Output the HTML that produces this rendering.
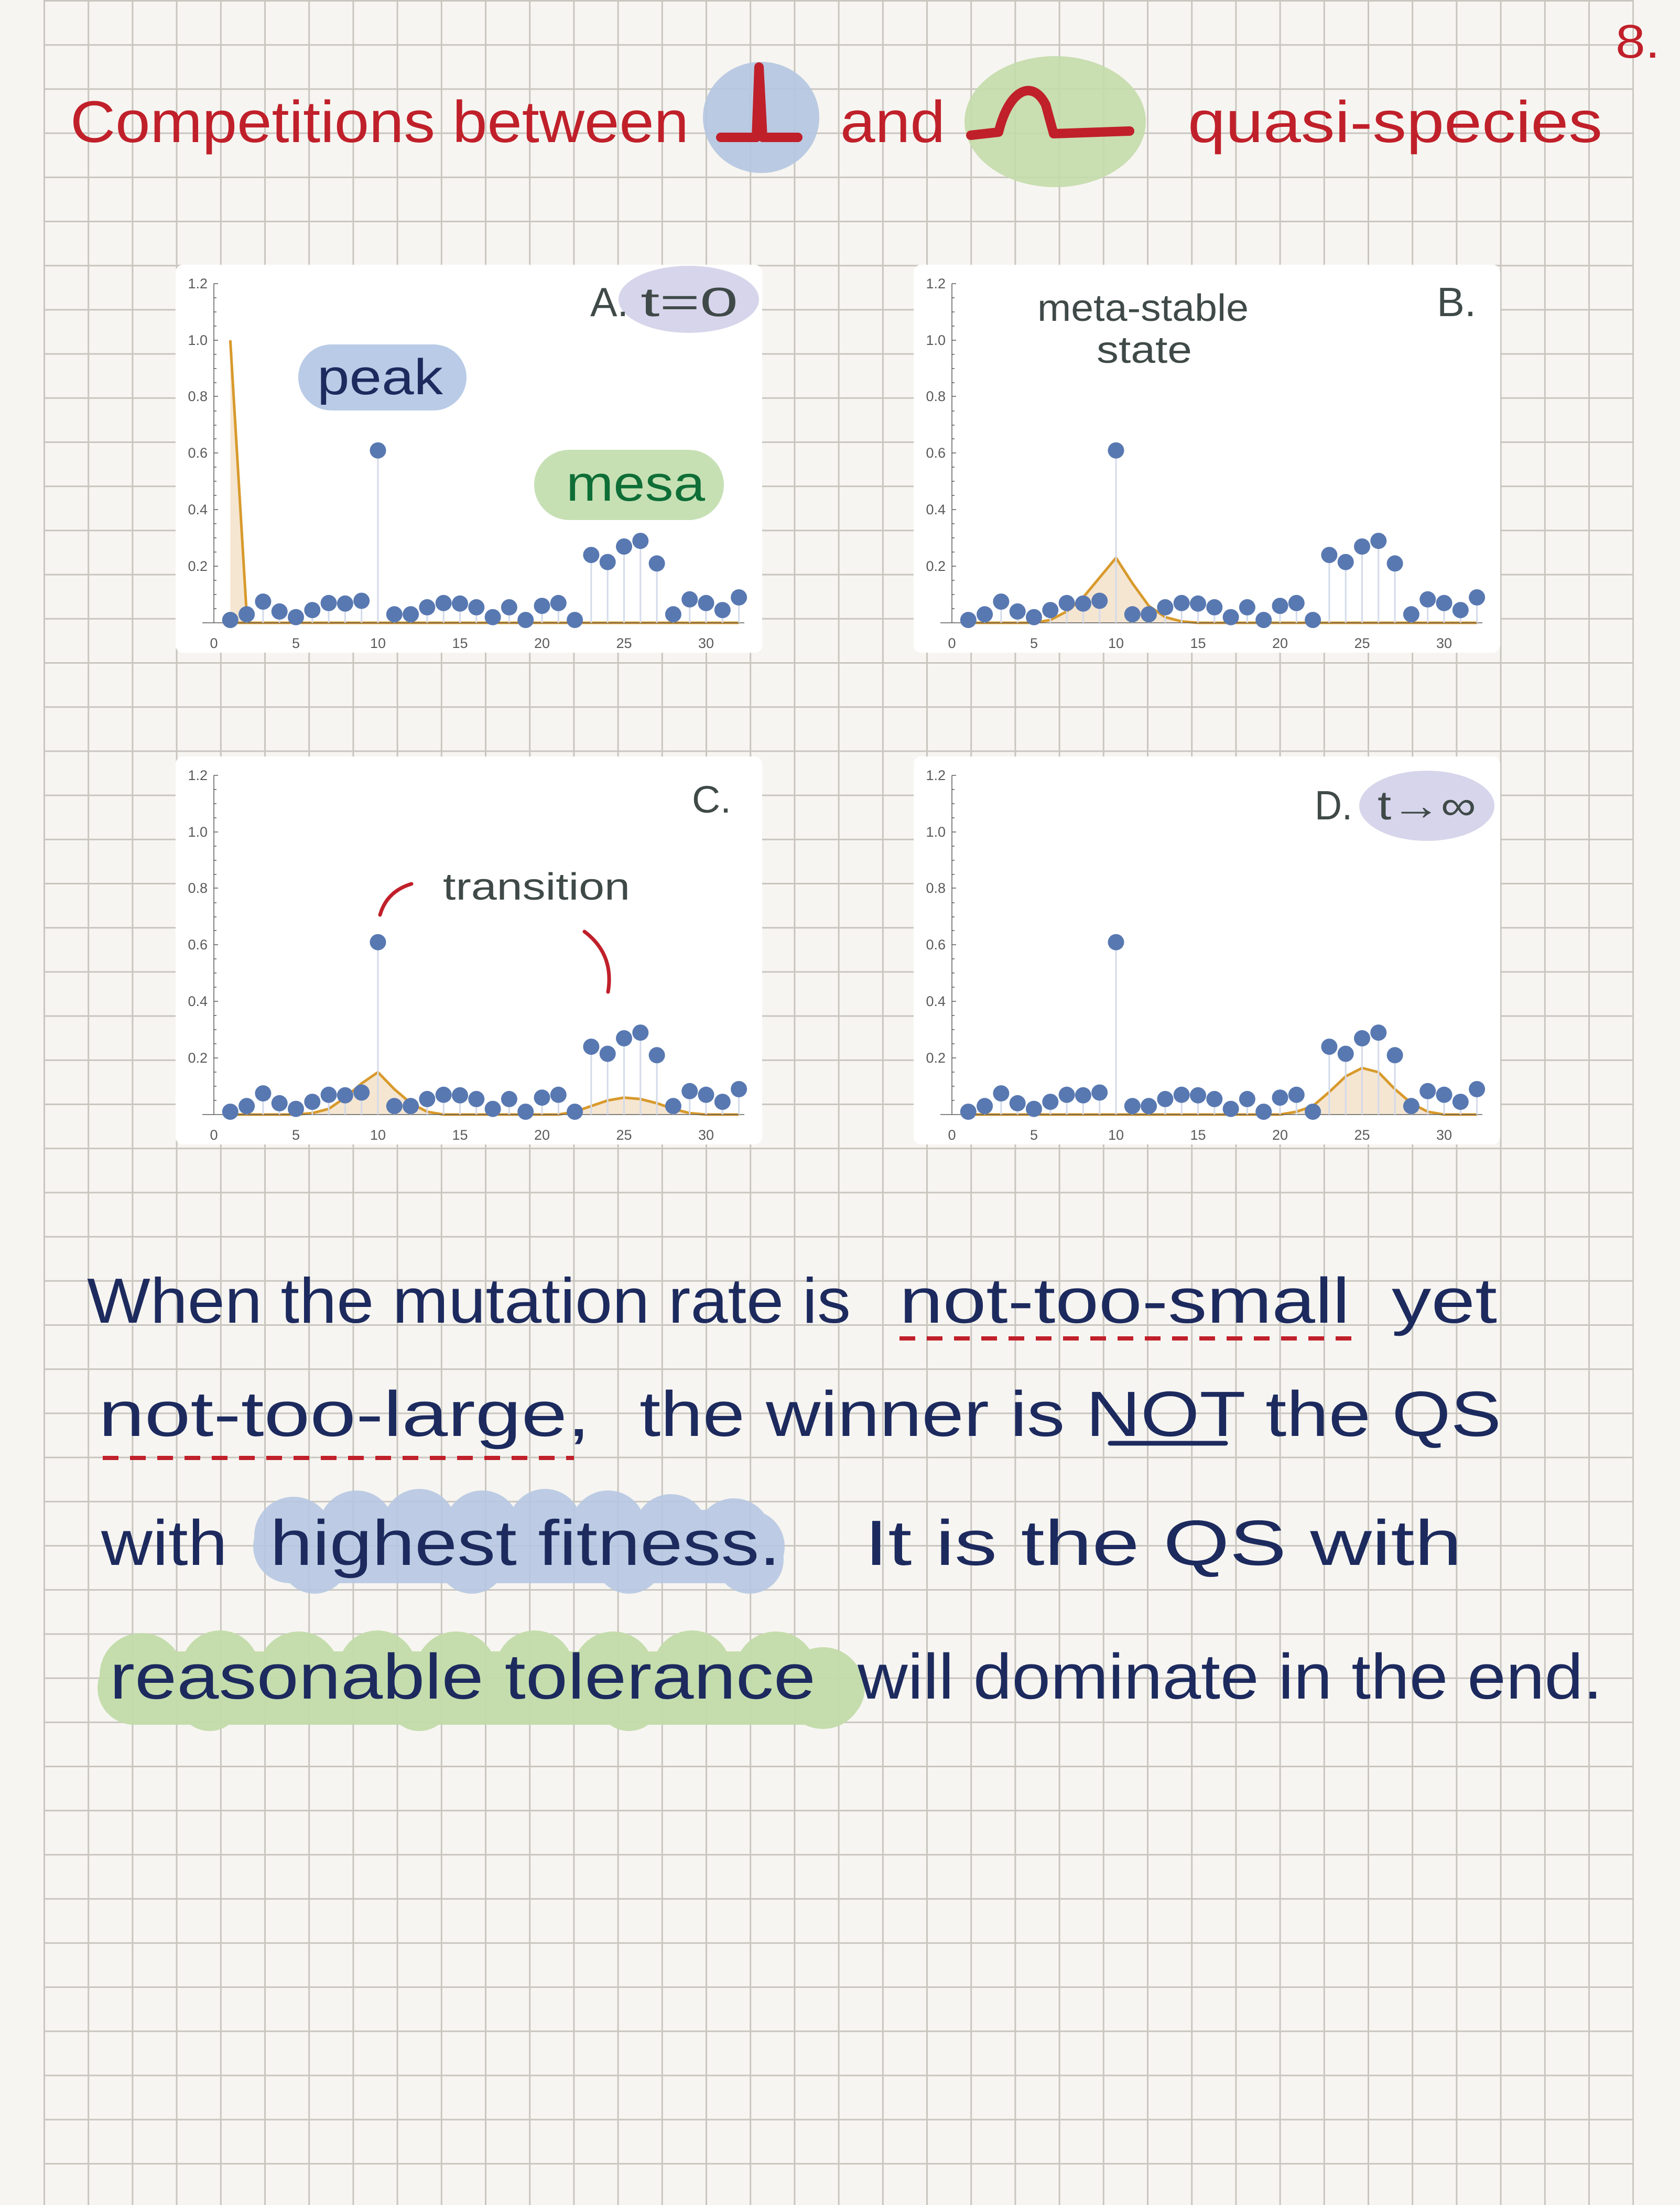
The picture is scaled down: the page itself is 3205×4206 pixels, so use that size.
<!DOCTYPE html>
<html><head><meta charset="utf-8"><style>
html,body{margin:0;padding:0;background:#f7f5f1;}
svg{display:block;}
.h{font-family:"Liberation Sans",sans-serif;}
.tl{font-family:"Liberation Sans",sans-serif;font-size:27px;fill:#5a5a5a;}
</style></head><body>
<svg width="3205" height="4206" viewBox="0 0 3205 4206" xmlns="http://www.w3.org/2000/svg">
<defs>
<pattern id="grid" x="83" y="0" width="84.2" height="84.2" patternUnits="userSpaceOnUse">
<path d="M1.5,0 V84.2 M0,1.5 H84.2" stroke="#c9c5bf" stroke-width="3" fill="none"/>
</pattern>
<g id="plot">
<g stroke="#5a5a5a" stroke-width="1.5" fill="none">
<path d="M408,541 V1188 M386,1188 H1420"/>
<path d="M408,541 h8 M408,649 h8 M408,756 h8 M408,864 h8 M408,972 h8 M408,1080 h8"/>
<path d="M408,568 h5 M408,595 h5 M408,622 h5 M408,676 h5 M408,703 h5 M408,730 h5 M408,784 h5 M408,811 h5 M408,837 h5 M408,891 h5 M408,918 h5 M408,945 h5 M408,999 h5 M408,1026 h5 M408,1053 h5 M408,1107 h5 M408,1134 h5 M408,1161 h5"/>
<path d="M564.5,1188 v-8 M721,1188 v-8 M877.5,1188 v-8 M1034,1188 v-8 M1190.5,1188 v-8 M1347,1188 v-8"/>
</g>
<path stroke="#d3daea" stroke-width="3" fill="none" d="M439.3,1182.6V1188 M470.6,1171.8V1188 M501.9,1147.6V1188 M533.2,1166.4V1188 M564.5,1177.2V1188 M595.8,1163.7V1188 M627.1,1150.3V1188 M658.4,1151.3V1188 M689.7,1146V1188 M721,859.2V1188 M752.3,1171.8V1188 M783.6,1171.8V1188 M814.9,1158.4V1188 M846.2,1150.3V1188 M877.5,1151.3V1188 M908.8,1158.4V1188 M940.1,1177.2V1188 M971.4,1158.4V1188 M1002.7,1182.6V1188 M1034,1155.7V1188 M1065.3,1150.3V1188 M1096.6,1182.6V1188 M1127.9,1058.6V1188 M1159.2,1072.1V1188 M1190.5,1042.5V1188 M1221.8,1031.7V1188 M1253.1,1074.8V1188 M1284.4,1171.8V1188 M1315.7,1143.3V1188 M1347,1150.3V1188 M1378.3,1163.7V1188 M1409.6,1139.5V1188"/>
<g fill="#5878b1">
<circle cx="439.3" cy="1182.6" r="15.5"/><circle cx="470.6" cy="1171.8" r="15.5"/><circle cx="501.9" cy="1147.6" r="15.5"/><circle cx="533.2" cy="1166.4" r="15.5"/><circle cx="564.5" cy="1177.2" r="15.5"/><circle cx="595.8" cy="1163.7" r="15.5"/><circle cx="627.1" cy="1150.3" r="15.5"/><circle cx="658.4" cy="1151.3" r="15.5"/><circle cx="689.7" cy="1146" r="15.5"/><circle cx="721" cy="859.2" r="15.5"/><circle cx="752.3" cy="1171.8" r="15.5"/><circle cx="783.6" cy="1171.8" r="15.5"/><circle cx="814.9" cy="1158.4" r="15.5"/><circle cx="846.2" cy="1150.3" r="15.5"/><circle cx="877.5" cy="1151.3" r="15.5"/><circle cx="908.8" cy="1158.4" r="15.5"/><circle cx="940.1" cy="1177.2" r="15.5"/><circle cx="971.4" cy="1158.4" r="15.5"/><circle cx="1002.7" cy="1182.6" r="15.5"/><circle cx="1034" cy="1155.7" r="15.5"/><circle cx="1065.3" cy="1150.3" r="15.5"/><circle cx="1096.6" cy="1182.6" r="15.5"/><circle cx="1127.9" cy="1058.6" r="15.5"/><circle cx="1159.2" cy="1072.1" r="15.5"/><circle cx="1190.5" cy="1042.5" r="15.5"/><circle cx="1221.8" cy="1031.7" r="15.5"/><circle cx="1253.1" cy="1074.8" r="15.5"/><circle cx="1284.4" cy="1171.8" r="15.5"/><circle cx="1315.7" cy="1143.3" r="15.5"/><circle cx="1347" cy="1150.3" r="15.5"/><circle cx="1378.3" cy="1163.7" r="15.5"/><circle cx="1409.6" cy="1139.5" r="15.5"/>
</g>
</g>
</defs>
<rect x="0" y="0" width="3205" height="4206" fill="#f7f5f1"/>
<rect x="83" y="0" width="3034" height="4206" fill="url(#grid)"/>

<!-- Title -->
<ellipse cx="1452" cy="224" rx="111" ry="106" fill="#b3c5e0" opacity="0.9"/>
<ellipse cx="2013" cy="232" rx="173" ry="125" fill="#c3dcaa" opacity="0.9"/>
<g class="h" fill="#c0202a" font-size="112">
<text x="134" y="271" textLength="1180" lengthAdjust="spacingAndGlyphs">Competitions between</text>
<text x="1603" y="271" textLength="200" lengthAdjust="spacingAndGlyphs">and</text>
<text x="2266" y="271" textLength="791" lengthAdjust="spacingAndGlyphs">quasi-species</text>
<text x="3082" y="110" font-size="90" textLength="85" lengthAdjust="spacingAndGlyphs">8.</text>
</g>
<path d="M1375,262 L1443,262 L1448,128 L1455,262 L1522,262" stroke="#c0202a" stroke-width="18" fill="none" stroke-linejoin="round" stroke-linecap="round"/>
<path d="M1852,258 L1905,252 C1925,170 1970,150 1995,200 L2010,255 L2155,250" stroke="#c0202a" stroke-width="18" fill="none" stroke-linejoin="round" stroke-linecap="round"/>

<!-- Panels -->
<g>
<rect x="335" y="505" width="1119" height="740" rx="14" fill="#ffffff"/>
<path d="M439.3,1188 L439.3,649 L470.6,1172 L470.6,1188 Z" fill="#f5e6d2"/>
<path d="M439.3,649 L470.6,1172 L470.6,1188 M439.3,1188 H1409.6" stroke="#d89a2c" stroke-width="5" fill="none"/>
<use href="#plot"/>
</g>
<g transform="translate(1408,0)">
<rect x="335" y="505" width="1119" height="740" rx="14" fill="#ffffff"/>
<path d="M439.3,1188 L564.5,1188 L595.8,1182.6 L627.1,1166.4 L658.4,1139.5 L689.7,1101.8 L721,1064 L752.3,1112.5 L783.6,1155.7 L814.9,1177.2 L846.2,1185.3 L877.5,1188 Z" fill="#f5e6d2"/>
<path d="M439.3,1188 L564.5,1188 L595.8,1182.6 L627.1,1166.4 L658.4,1139.5 L689.7,1101.8 L721,1064 L752.3,1112.5 L783.6,1155.7 L814.9,1177.2 L846.2,1185.3 L877.5,1188 L1409.6,1188" stroke="#d89a2c" stroke-width="5" fill="none"/>
<use href="#plot"/>
</g>
<g transform="translate(0,938)">
<rect x="335" y="505" width="1119" height="740" rx="14" fill="#ffffff"/>
<path d="M564.5,1188 L595.8,1185.3 L627.1,1177.2 L658.4,1155.7 L689.7,1128.7 L721,1107.2 L752.3,1139.5 L783.6,1166.4 L814.9,1182.6 L846.2,1188 Z M1065.3,1188 L1096.6,1182.6 L1127.9,1171.8 L1159.2,1161.1 L1190.5,1155.7 L1221.8,1158.4 L1253.1,1166.4 L1284.4,1177.2 L1315.7,1185.3 L1347,1188 Z" fill="#f5e6d2"/>
<path d="M439.3,1188 L564.5,1188 L595.8,1185.3 L627.1,1177.2 L658.4,1155.7 L689.7,1128.7 L721,1107.2 L752.3,1139.5 L783.6,1166.4 L814.9,1182.6 L846.2,1188 L1065.3,1188 L1096.6,1182.6 L1127.9,1171.8 L1159.2,1161.1 L1190.5,1155.7 L1221.8,1158.4 L1253.1,1166.4 L1284.4,1177.2 L1315.7,1185.3 L1347,1188 L1409.6,1188" stroke="#d89a2c" stroke-width="5" fill="none"/>
<use href="#plot"/>
</g>
<g transform="translate(1408,938)">
<rect x="335" y="505" width="1119" height="740" rx="14" fill="#ffffff"/>
<path d="M1034,1188 L1065.3,1182.6 L1096.6,1171.8 L1127.9,1144.9 L1159.2,1115.2 L1190.5,1099.1 L1221.8,1107.2 L1253.1,1139.5 L1284.4,1166.4 L1315.7,1182.6 L1347,1188 Z" fill="#f5e6d2"/>
<path d="M439.3,1188 L1034,1188 L1065.3,1182.6 L1096.6,1171.8 L1127.9,1144.9 L1159.2,1115.2 L1190.5,1099.1 L1221.8,1107.2 L1253.1,1139.5 L1284.4,1166.4 L1315.7,1182.6 L1347,1188 L1409.6,1188" stroke="#d89a2c" stroke-width="5" fill="none"/>
<use href="#plot"/>
</g>

<!-- tick labels -->
<g class="tl">
<g text-anchor="end">
<text x="396" y="550">1.2</text><text x="396" y="658">1.0</text><text x="396" y="765">0.8</text><text x="396" y="873">0.6</text><text x="396" y="981">0.4</text><text x="396" y="1089">0.2</text>
<text x="1804" y="550">1.2</text><text x="1804" y="658">1.0</text><text x="1804" y="765">0.8</text><text x="1804" y="873">0.6</text><text x="1804" y="981">0.4</text><text x="1804" y="1089">0.2</text>
<text x="396" y="1488">1.2</text><text x="396" y="1596">1.0</text><text x="396" y="1703">0.8</text><text x="396" y="1811">0.6</text><text x="396" y="1919">0.4</text><text x="396" y="2027">0.2</text>
<text x="1804" y="1488">1.2</text><text x="1804" y="1596">1.0</text><text x="1804" y="1703">0.8</text><text x="1804" y="1811">0.6</text><text x="1804" y="1919">0.4</text><text x="1804" y="2027">0.2</text>
</g>
<g text-anchor="middle">
<text x="408" y="1236">0</text><text x="564.5" y="1236">5</text><text x="721" y="1236">10</text><text x="877.5" y="1236">15</text><text x="1034" y="1236">20</text><text x="1190.5" y="1236">25</text><text x="1347" y="1236">30</text>
<text x="1816" y="1236">0</text><text x="1972.5" y="1236">5</text><text x="2129" y="1236">10</text><text x="2285.5" y="1236">15</text><text x="2442" y="1236">20</text><text x="2598.5" y="1236">25</text><text x="2755" y="1236">30</text>
<text x="408" y="2174">0</text><text x="564.5" y="2174">5</text><text x="721" y="2174">10</text><text x="877.5" y="2174">15</text><text x="1034" y="2174">20</text><text x="1190.5" y="2174">25</text><text x="1347" y="2174">30</text>
<text x="1816" y="2174">0</text><text x="1972.5" y="2174">5</text><text x="2129" y="2174">10</text><text x="2285.5" y="2174">15</text><text x="2442" y="2174">20</text><text x="2598.5" y="2174">25</text><text x="2755" y="2174">30</text>
</g>
</g>

<!-- panel annotations -->
<ellipse cx="1314" cy="571" rx="134" ry="64" fill="#d7d5eb"/>
<rect x="569" y="657" width="321" height="126" rx="63" fill="#b9cbe6"/>
<rect x="1019" y="858" width="362" height="134" rx="67" fill="#c6e0b4"/>
<ellipse cx="2722" cy="1537" rx="129" ry="67" fill="#d7d5eb"/>
<g class="h">
<text x="1126" y="603" font-size="78" fill="#3f4a48" textLength="73" lengthAdjust="spacingAndGlyphs">A.</text>
<text x="1222" y="603" font-size="78" fill="#3f4a48" textLength="186" lengthAdjust="spacingAndGlyphs">t=0</text>
<text x="605" y="752" font-size="96" fill="#1c2a5e" textLength="240" lengthAdjust="spacingAndGlyphs">peak</text>
<text x="1080" y="955" font-size="96" fill="#0e6e36" textLength="265" lengthAdjust="spacingAndGlyphs">mesa</text>
<text x="1979" y="612" font-size="72" fill="#3f4a48" textLength="403" lengthAdjust="spacingAndGlyphs">meta-stable</text>
<text x="2092" y="692" font-size="72" fill="#3f4a48" textLength="182" lengthAdjust="spacingAndGlyphs">state</text>
<text x="2741" y="603" font-size="78" fill="#3f4a48" textLength="75" lengthAdjust="spacingAndGlyphs">B.</text>
<text x="1320" y="1550" font-size="72" fill="#3f4a48" textLength="75" lengthAdjust="spacingAndGlyphs">C.</text>
<text x="845" y="1716" font-size="72" fill="#3f4a48" textLength="357" lengthAdjust="spacingAndGlyphs">transition</text>
<text x="2508" y="1563" font-size="78" fill="#3f4a48" textLength="72" lengthAdjust="spacingAndGlyphs">D.</text>
<text x="2628" y="1563" font-size="78" fill="#3f4a48" textLength="188" lengthAdjust="spacingAndGlyphs">t→∞</text>
</g>
<path d="M725,1745 Q738,1700 785,1686 M1115,1777 Q1172,1820 1160,1892" stroke="#c0202a" stroke-width="7" fill="none" stroke-linecap="round"/>

<!-- body highlights -->
<g fill="#b7c8e3" opacity="0.9">
<rect x="483" y="2880" width="1014" height="140" rx="70"/>
<circle cx="560" cy="2930" r="75"/><circle cx="680" cy="2915" r="72"/><circle cx="800" cy="2910" r="70"/><circle cx="920" cy="2915" r="72"/><circle cx="1040" cy="2910" r="70"/><circle cx="1160" cy="2915" r="72"/><circle cx="1280" cy="2920" r="70"/><circle cx="1400" cy="2930" r="72"/><circle cx="1430" cy="2975" r="65"/><circle cx="600" cy="2975" r="65"/><circle cx="900" cy="2975" r="65"/><circle cx="1200" cy="2975" r="65"/>
</g>
<g fill="#c3dcaa" opacity="0.95">
<rect x="186" y="3150" width="1464" height="140" rx="70"/>
<circle cx="270" cy="3195" r="80"/><circle cx="420" cy="3185" r="75"/><circle cx="570" cy="3190" r="78"/><circle cx="720" cy="3185" r="75"/><circle cx="870" cy="3190" r="78"/><circle cx="1020" cy="3185" r="75"/><circle cx="1170" cy="3190" r="78"/><circle cx="1320" cy="3185" r="75"/><circle cx="1480" cy="3190" r="78"/><circle cx="1570" cy="3220" r="78"/><circle cx="400" cy="3240" r="62"/><circle cx="800" cy="3240" r="62"/><circle cx="1200" cy="3240" r="62"/>
</g>

<!-- body text -->
<g class="h" fill="#1c2a5e" font-size="122">
<text x="166" y="2523" textLength="1457" lengthAdjust="spacingAndGlyphs">When the mutation rate is</text>
<text x="1716" y="2523" textLength="859" lengthAdjust="spacingAndGlyphs">not-too-small</text>
<text x="2655" y="2523" textLength="201" lengthAdjust="spacingAndGlyphs">yet</text>
<text x="188" y="2739" textLength="938" lengthAdjust="spacingAndGlyphs">not-too-large,</text>
<text x="1220" y="2739" textLength="1644" lengthAdjust="spacingAndGlyphs">the winner is NOT the QS</text>
<text x="193" y="2985" textLength="241" lengthAdjust="spacingAndGlyphs">with</text>
<text x="515" y="2985" textLength="974" lengthAdjust="spacingAndGlyphs">highest fitness.</text>
<text x="1649" y="2985" textLength="1140" lengthAdjust="spacingAndGlyphs">It is the QS with</text>
<text x="209" y="3240" textLength="1347" lengthAdjust="spacingAndGlyphs">reasonable tolerance</text>
<text x="1636" y="3240" textLength="1421" lengthAdjust="spacingAndGlyphs">will dominate in the end.</text>
</g>
<path d="M1716,2553 H2587 M196,2781 H1095" stroke="#c0202a" stroke-width="8" stroke-dasharray="30,22" fill="none"/>
<path d="M2118,2753 H2338" stroke="#1c2a5e" stroke-width="9" fill="none" stroke-linecap="round"/>
</svg>
</body></html>
